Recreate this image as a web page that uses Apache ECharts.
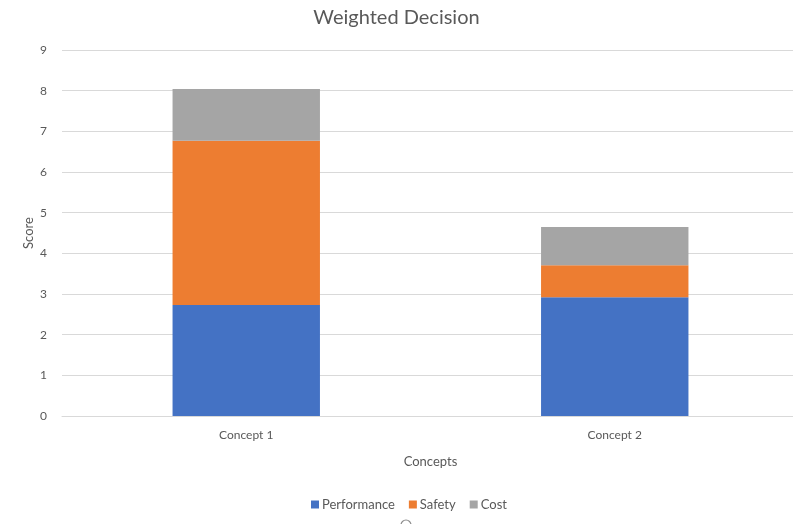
<!DOCTYPE html>
<html>
<head>
<meta charset="utf-8">
<script src="https://cdn.jsdelivr.net/npm/echarts@6/dist/echarts.min.js"></script>
<style>
  html, body { margin: 0; padding: 0; background: #fff; }
  #chart { width: 793px; height: 524px; }
</style>
</head>
<body>
<div id="chart"></div>
<script>
// Weighted decision scores, stacked by criterion
const concepts = ['Concept 1', 'Concept 2'];
const performance = [2.73, 2.92];
const safety = [4.04, 0.79];
const cost = [1.27, 0.94];
const scoreTicks = { min: 0, max: 9, step: 1 };

const FONT = 'Lato, "Open Sans", sans-serif';
const TEXT = '#595959';

const chart = echarts.init(document.getElementById('chart'), null, { renderer: 'canvas' });

function barSeries(name, data, color) {
  return {
    name: name,
    type: 'bar',
    stack: 'total',
    data: data,
    barWidth: '40%',
    itemStyle: { color: color },
    emphasis: { disabled: true }
  };
}

chart.setOption({
  animation: false,
  title: {
    text: 'Weighted Decision',
    left: 'center',
    top: 3,
    textStyle: { fontFamily: FONT, fontSize: 20, fontWeight: 'normal', color: TEXT }
  },
  // plot area runs slightly past the right edge of the canvas
  grid: { left: 62, top: 50, right: -6, bottom: 108, containLabel: false, outerBoundsMode: 'none' },
  xAxis: {
    type: 'category',
    data: concepts,
    name: 'Concepts',
    nameLocation: 'middle',
    nameGap: 39,
    nameMoveOverlap: false,
    nameTextStyle: { fontFamily: FONT, fontSize: 13, color: TEXT },
    axisLine: { lineStyle: { color: '#D9D9D9' } },
    axisTick: { show: false },
    axisLabel: { fontFamily: FONT, fontSize: 12, color: TEXT, margin: 13 }
  },
  yAxis: {
    type: 'value',
    min: scoreTicks.min,
    max: scoreTicks.max,
    interval: scoreTicks.step,
    name: 'Score',
    nameLocation: 'middle',
    nameGap: 27,
    nameMoveOverlap: false,
    nameTextStyle: { fontFamily: FONT, fontSize: 13, color: TEXT },
    axisLine: { show: false },
    axisTick: { show: false },
    axisLabel: { fontFamily: FONT, fontSize: 12, color: TEXT, margin: 15 },
    splitLine: { lineStyle: { color: '#D9D9D9', width: 1 } }
  },
  legend: {
    left: 306,
    top: 493,
    itemWidth: 8,
    itemHeight: 8,
    itemGap: 14,
    icon: 'rect',
    textStyle: { fontFamily: FONT, fontSize: 13, color: TEXT, padding: [0, 0, 0, -2] },
    data: ['Performance', 'Safety', 'Cost']
  },
  series: [
    barSeries('Performance', performance, '#4472C4'),
    barSeries('Safety', safety, '#ED7D31'),
    barSeries('Cost', cost, '#A5A5A5')
  ],
  graphic: [{
    type: 'circle',
    shape: { cx: 406, cy: 525, r: 5 },
    style: { fill: '#fff', stroke: '#8c8c8c', lineWidth: 1.2 },
    silent: true
  }]
});
</script>
</body>
</html>
